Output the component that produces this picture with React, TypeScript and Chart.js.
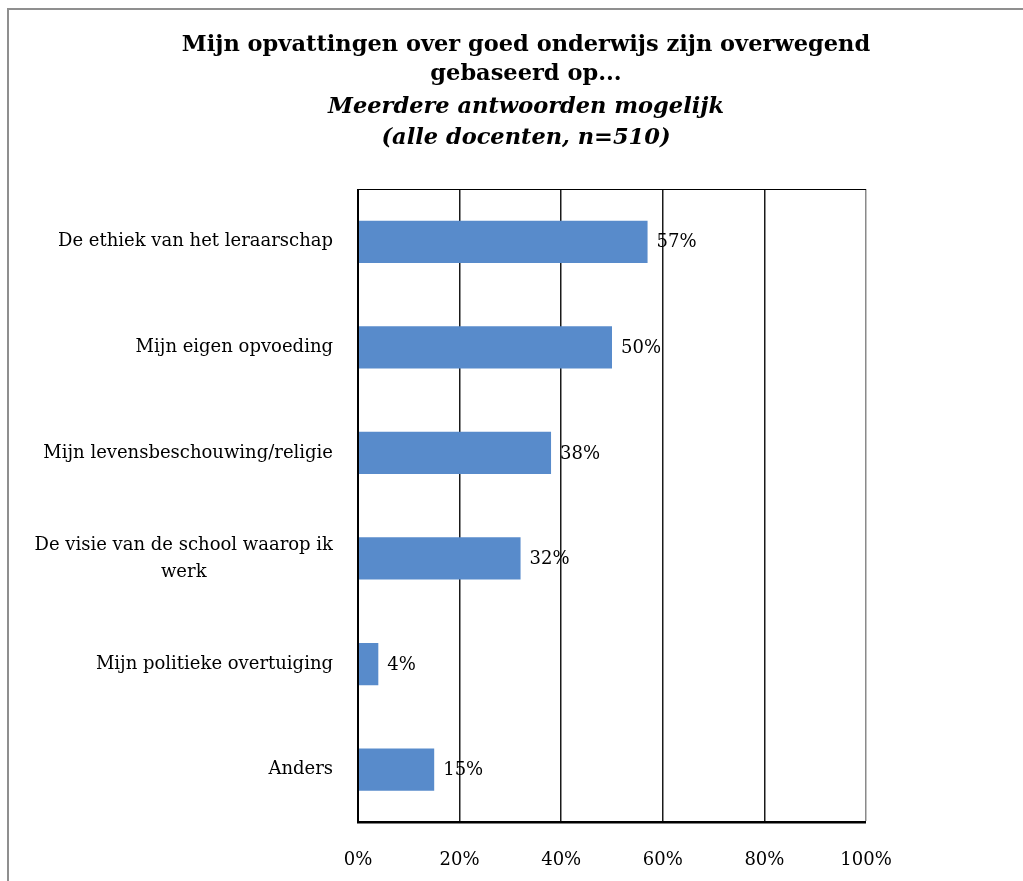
import React, { useEffect, useRef } from "react";
import { Chart, registerables } from "chart.js";

Chart.register(...registerables);

const titleLines = ["Mijn opvattingen over goed onderwijs zijn overwegend", "gebaseerd op..."];
const subtitleLines = ["Meerdere antwoorden mogelijk", "(alle docenten, n=510)"];
const categories: (string | string[])[] = [
  "De ethiek van het leraarschap",
  "Mijn eigen opvoeding",
  "Mijn levensbeschouwing/religie",
  ["De visie van de school waarop ik", "werk"],
  "Mijn politieke overtuiging",
  "Anders",
];
const values = [57, 50, 38, 32, 4, 15];
const valueLabels = ["57%", "50%", "38%", "32%", "4%", "15%"];
const xTickValues = [0, 20, 40, 60, 80, 100];

const FONT = "'DejaVu Serif', 'Liberation Serif', serif";

const drawPlugin = {
  id: "customDraw",
  beforeDraw(chart: any) {
    const { ctx, width, height } = chart;
    ctx.save();
    ctx.fillStyle = "#ffffff";
    ctx.fillRect(0, 0, width, height);
    ctx.strokeStyle = "#8f8f8f";
    ctx.lineWidth = 2;
    ctx.strokeRect(8, 9, width + 20, height + 20);
    ctx.restore();
  },
  afterDraw(chart: any) {
    const { ctx, chartArea } = chart;
    const xs = chart.scales.x;
    const ys = chart.scales.y;
    ctx.save();
    // title
    ctx.fillStyle = "#000";
    ctx.textAlign = "center";
    ctx.textBaseline = "middle";
    const cx = 526;
    ctx.font = `bold 22.5px ${FONT}`;
    ctx.fillText(titleLines[0], cx, 45);
    ctx.fillText(titleLines[1], cx, 74);
    ctx.font = `italic bold 22.5px ${FONT}`;
    ctx.fillText(subtitleLines[0], cx, 107);
    ctx.fillText(subtitleLines[1], cx, 138);

    // top and left borders
    ctx.strokeStyle = "#000";
    ctx.lineWidth = 1;
    ctx.beginPath();
    ctx.moveTo(chartArea.left, chartArea.top + 0.5);
    ctx.lineTo(chartArea.right, chartArea.top + 0.5);
    ctx.stroke();
    ctx.lineWidth = 2;
    ctx.beginPath();
    ctx.moveTo(chartArea.left, chartArea.top);
    ctx.lineTo(chartArea.left, chartArea.bottom);
    ctx.stroke();

    // category labels (block right-aligned, lines centred within the block)
    ctx.font = `18px ${FONT}`;
    ctx.textBaseline = "middle";
    ctx.textAlign = "center";
    const rightEdge = chartArea.left - 25;
    categories.forEach((c, i) => {
      const y = ys.getPixelForValue(i);
      const lines = Array.isArray(c) ? c : [c];
      const w = Math.max(...lines.map((l) => ctx.measureText(l).width));
      const lh = 27;
      lines.forEach((l, j) => {
        ctx.fillText(l, rightEdge - w / 2, y + (j - (lines.length - 1) / 2) * lh);
      });
    });

    // value labels
    ctx.textAlign = "left";
    values.forEach((v, i) => {
      const y = ys.getPixelForValue(i);
      const x = xs.getPixelForValue(v);
      ctx.fillText(valueLabels[i], x + 9, y + 1);
    });
    ctx.restore();
  },
};

export default function App() {
  const ref = useRef<HTMLCanvasElement>(null);
  useEffect(() => {
    document.body.style.margin = "0";
    const canvas = ref.current!;
    const chart = new Chart(canvas, {
      type: "bar",
      data: {
        labels: categories.map((c) => (Array.isArray(c) ? c.join(" ") : c)),
        datasets: [
          {
            data: values,
            backgroundColor: "#588bcb",
            borderWidth: 0,
            categoryPercentage: 1,
            barPercentage: 0.4,
          },
        ],
      },
      options: {
        indexAxis: "y",
        animation: false,
        responsive: false,
        maintainAspectRatio: false,
        layout: { padding: { left: 358, right: 157, top: 189, bottom: -17 } },
        plugins: {
          legend: { display: false },
          title: { display: false },
          tooltip: { enabled: false },
        },
        scales: {
          y: { display: false },
          x: {
            min: 0,
            max: 100,
            afterBuildTicks: (scale: any) => {
              scale.ticks = xTickValues.map((v) => ({ value: v }));
            },
            ticks: {
              padding: 27,
              color: "#000",
              font: { family: FONT, size: 18 },
              callback: (v: any) => `${v}%`,
            },
            grid: {
              drawTicks: false,
              color: (c: any) => (c.index === 5 ? "#8a8a8a" : "#1a1a1a"),
              lineWidth: (c: any) => (c.index === 0 ? 0 : 1.5),
            },
            border: { display: true, color: "#000", width: 2.5 },
          },
        },
      },
      plugins: [drawPlugin],
    });
    return () => chart.destroy();
  }, []);
  return <canvas ref={ref} width={1023} height={881} style={{ display: "block" }} />;
}
